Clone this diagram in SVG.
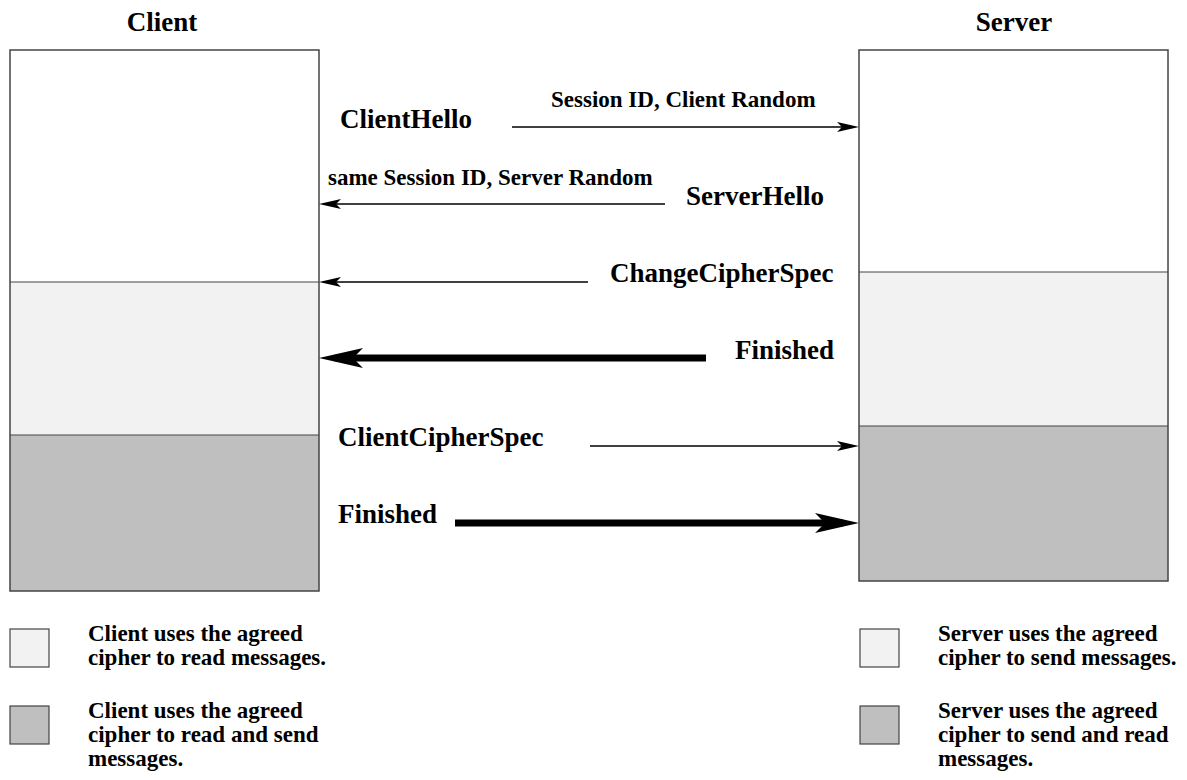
<svg xmlns="http://www.w3.org/2000/svg" width="1187" height="780" viewBox="0 0 1187 780">
  <style>
    .lbl { font-family: "Liberation Serif", "Times New Roman", serif; font-weight: bold; fill: #000; }
    .big { font-size: 27px; }
    .small { font-size: 23px; }
    .legend { font-size: 23px; }
    .frame { fill: none; stroke: #444; stroke-width: 1.5; }
    .white { fill: #ffffff; }
    .light { fill: #f2f2f2; }
    .dark { fill: #bfbfbf; }
    .divider { stroke: #444; stroke-width: 1.2; }
    .thin { stroke: #000; stroke-width: 1.4; fill: none; marker-end: url(#headThin); }
    .thick { stroke: #000; stroke-width: 7; fill: none; marker-end: url(#headThick); }
    .swatch { stroke: #444; stroke-width: 1.2; }
  </style>
  <defs>
    <marker id="headThin" markerUnits="userSpaceOnUse" viewBox="0 0 22 10" markerWidth="22" markerHeight="10" refX="14" refY="5" orient="auto">
      <path d="M0,0 L22,5 L0,10 L5,5 z" fill="#000"/>
    </marker>
    <marker id="headThick" markerUnits="userSpaceOnUse" viewBox="0 0 44 20" markerWidth="44" markerHeight="20" refX="28" refY="10" orient="auto">
      <path d="M0,0 L44,10 L0,20 L10,10 z" fill="#000"/>
    </marker>
  </defs>

  <rect x="0" y="0" width="1187" height="780" fill="#fff"/>

  <!-- Client lifeline column -->
  <g id="client">
    <text class="lbl big" x="162" y="31" text-anchor="middle">Client</text>
    <rect class="white" x="10" y="50" width="309" height="232"/>
    <rect class="light" x="10" y="282" width="309" height="153"/>
    <rect class="dark" x="10" y="435" width="309" height="156"/>
    <line class="divider" x1="10" y1="282" x2="319" y2="282"/>
    <line class="divider" x1="10" y1="435" x2="319" y2="435"/>
    <rect class="frame" x="10" y="50" width="309" height="541"/>
  </g>

  <!-- Server lifeline column -->
  <g id="server">
    <text class="lbl big" x="1014" y="31" text-anchor="middle">Server</text>
    <rect class="white" x="859" y="50" width="309" height="222"/>
    <rect class="light" x="859" y="272" width="309" height="154"/>
    <rect class="dark" x="859" y="426" width="309" height="155"/>
    <line class="divider" x1="859" y1="272" x2="1168" y2="272"/>
    <line class="divider" x1="859" y1="426" x2="1168" y2="426"/>
    <rect class="frame" x="859" y="50" width="309" height="531"/>
  </g>

  <!-- Handshake messages -->
  <g id="connectors">
    <line class="thin" x1="512" y1="127" x2="851" y2="127"/>
    <line class="thin" x1="665" y1="204" x2="327" y2="204"/>
    <line class="thin" x1="588" y1="282" x2="327" y2="282"/>
    <line class="thick" x1="706" y1="358" x2="335" y2="358"/>
    <line class="thin" x1="590" y1="446" x2="851" y2="446"/>
    <line class="thick" x1="455" y1="523" x2="843" y2="523"/>
  </g>

  <g id="msg-clienthello">
    <text class="lbl big" x="340" y="128">ClientHello</text>
    <text class="lbl small" x="551" y="107">Session ID, Client Random</text>
  </g>
  <g id="msg-serverhello">
    <text class="lbl small" x="328" y="185">same Session ID, Server Random</text>
    <text class="lbl big" x="686" y="205">ServerHello</text>
  </g>
  <g id="msg-changecipherspec">
    <text class="lbl big" x="610" y="282">ChangeCipherSpec</text>
  </g>
  <g id="msg-server-finished">
    <text class="lbl big" x="735" y="359">Finished</text>
  </g>
  <g id="msg-clientcipherspec">
    <text class="lbl big" x="338" y="446">ClientCipherSpec</text>
  </g>
  <g id="msg-client-finished">
    <text class="lbl big" x="338" y="523">Finished</text>
  </g>

  <!-- Legend -->
  <g id="legend-client-read">
    <rect class="light swatch" x="10" y="629" width="39" height="38"/>
    <text class="lbl legend" x="88" y="641">Client uses the agreed</text>
    <text class="lbl legend" x="88" y="665">cipher to read messages.</text>
  </g>
  <g id="legend-client-readsend">
    <rect class="dark swatch" x="10" y="706" width="39" height="38"/>
    <text class="lbl legend" x="88" y="718">Client uses the agreed</text>
    <text class="lbl legend" x="88" y="742">cipher to read and send</text>
    <text class="lbl legend" x="88" y="766">messages.</text>
  </g>
  <g id="legend-server-send">
    <rect class="light swatch" x="860" y="629" width="39" height="38"/>
    <text class="lbl legend" x="938" y="641">Server uses the agreed</text>
    <text class="lbl legend" x="938" y="665">cipher to send messages.</text>
  </g>
  <g id="legend-server-sendread">
    <rect class="dark swatch" x="860" y="706" width="39" height="38"/>
    <text class="lbl legend" x="938" y="718">Server uses the agreed</text>
    <text class="lbl legend" x="938" y="742">cipher to send and read</text>
    <text class="lbl legend" x="938" y="766">messages.</text>
  </g>
</svg>
